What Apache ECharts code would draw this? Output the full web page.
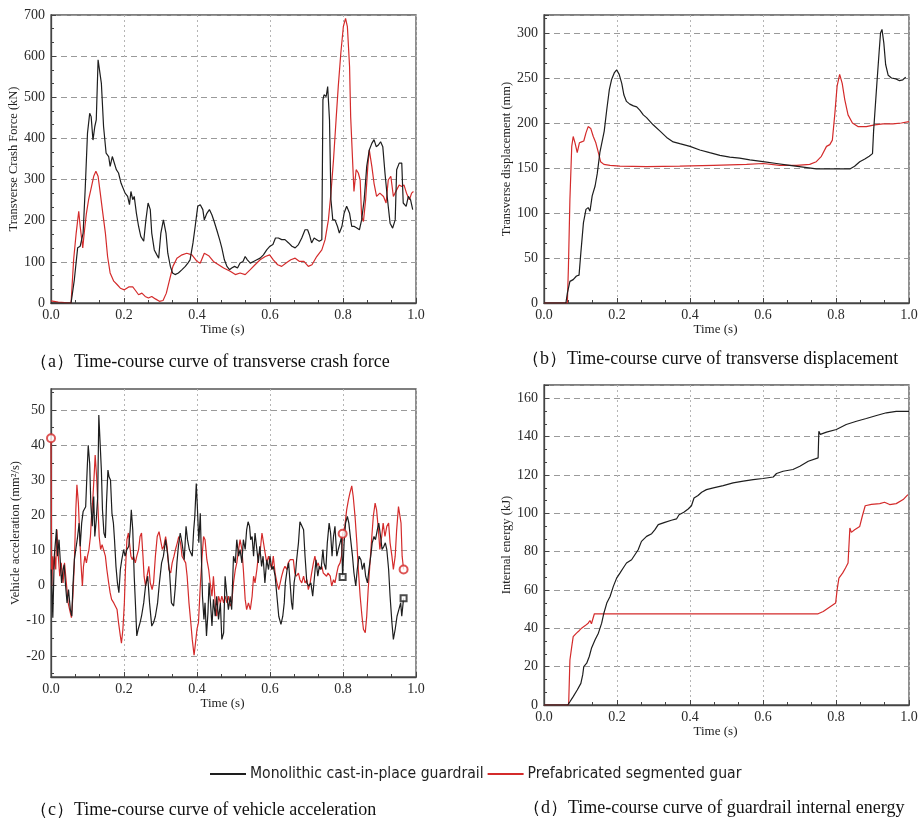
<!DOCTYPE html>
<html><head><meta charset="utf-8">
<script src="https://cdn.jsdelivr.net/npm/echarts@6/dist/echarts.min.js"></script>
<style>html,body{margin:0;padding:0;background:#fff}#c{width:921px;height:822px}</style>
</head><body><div id="c"></div>
<script>
// ---------------- DATA ----------------
const seriesNames = ['Monolithic cast-in-place guardrail', 'Prefabricated segmented guardrail'];
const timeTicks = [0, 0.2, 0.4, 0.6, 0.8, 1.0];
const accTicks = [-20, -10, 0, 10, 20, 30, 40, 50];
const accMinorTicks = [-25, -15, -5, 5, 15, 25, 35, 45, 55];
const captions = [
  '（a）Time-course curve of transverse crash force',
  '（b）Time-course curve of transverse displacement',
  '（c）Time-course curve of vehicle acceleration',
  '（d）Time-course curve of guardrail internal energy'
];

// (a) transverse crash force, kN
const forceMonolithic = [[0,0],[0.055,0],[0.064,57],[0.073,134],[0.080,138],[0.088,170],[0.094,283],[0.100,413],[0.106,461],[0.110,453],[0.115,396],[0.120,429],[0.124,445],[0.129,591],[0.132,595],[0.138,534],[0.144,429],[0.151,364],[0.158,356],[0.162,332],[0.168,356],[0.173,360],[0.179,324],[0.185,316],[0.192,291],[0.197,287],[0.203,267],[0.210,259],[0.215,239],[0.219,271],[0.224,251],[0.228,259],[0.234,218],[0.240,186],[0.246,162],[0.254,150],[0.260,202],[0.266,243],[0.272,227],[0.276,170],[0.283,129],[0.290,117],[0.295,109],[0.301,170],[0.308,202],[0.315,170],[0.320,121],[0.327,89],[0.333,73],[0.340,69],[0.349,73],[0.359,81],[0.368,89],[0.375,97],[0.381,105],[0.389,146],[0.395,186],[0.402,235],[0.409,239],[0.416,227],[0.420,202],[0.427,218],[0.434,227],[0.441,214],[0.447,198],[0.454,178],[0.462,154],[0.468,134],[0.475,105],[0.482,89],[0.489,81],[0.495,85],[0.503,89],[0.511,85],[0.518,97],[0.526,101],[0.532,113],[0.538,105],[0.546,97],[0.555,101],[0.564,105],[0.573,109],[0.582,117],[0.591,129],[0.600,138],[0.608,142],[0.615,158],[0.623,158],[0.632,154],[0.641,154],[0.651,146],[0.660,138],[0.669,134],[0.678,142],[0.687,158],[0.696,178],[0.703,178],[0.708,166],[0.714,146],[0.721,158],[0.728,154],[0.735,150],[0.742,154],[0.745,494],[0.748,506],[0.754,502],[0.758,526],[0.763,445],[0.767,251],[0.772,202],[0.778,202],[0.785,186],[0.790,170],[0.797,186],[0.803,218],[0.810,235],[0.818,218],[0.824,186],[0.831,186],[0.838,182],[0.845,178],[0.851,202],[0.858,251],[0.865,332],[0.872,372],[0.879,388],[0.885,397],[0.891,380],[0.897,384],[0.903,392],[0.909,380],[0.915,316],[0.922,251],[0.929,194],[0.936,182],[0.943,202],[0.947,324],[0.954,340],[0.961,340],[0.965,243],[0.973,235],[0.979,259],[0.985,251],[0.991,227]];
const forcePrefab = [[0,5],[0.02,2],[0.055,0],[0.062,105],[0.069,170],[0.076,223],[0.080,186],[0.087,134],[0.091,170],[0.097,218],[0.103,251],[0.109,275],[0.117,308],[0.123,320],[0.129,308],[0.135,267],[0.142,218],[0.149,170],[0.155,113],[0.162,73],[0.172,53],[0.181,45],[0.190,36],[0.201,32],[0.213,39],[0.224,39],[0.231,31],[0.240,20],[0.249,24],[0.258,16],[0.267,12],[0.276,16],[0.286,10],[0.297,4],[0.307,6],[0.316,24],[0.325,57],[0.334,89],[0.345,109],[0.359,117],[0.372,121],[0.386,117],[0.400,101],[0.409,97],[0.420,121],[0.432,115],[0.445,101],[0.459,93],[0.473,85],[0.491,77],[0.505,69],[0.518,73],[0.532,69],[0.546,81],[0.559,93],[0.573,105],[0.587,113],[0.599,117],[0.609,105],[0.621,93],[0.632,89],[0.644,97],[0.657,105],[0.669,109],[0.681,101],[0.693,101],[0.705,89],[0.715,93],[0.728,113],[0.742,129],[0.751,154],[0.760,202],[0.767,267],[0.774,348],[0.781,445],[0.787,526],[0.794,607],[0.801,672],[0.807,692],[0.812,672],[0.818,574],[0.821,453],[0.827,332],[0.830,271],[0.836,324],[0.842,316],[0.847,299],[0.851,210],[0.856,198],[0.862,251],[0.868,332],[0.872,372],[0.879,332],[0.885,291],[0.892,259],[0.901,267],[0.911,259],[0.918,243],[0.924,299],[0.931,308],[0.938,259],[0.947,275],[0.954,287],[0.961,283],[0.967,287],[0.974,267],[0.982,251],[0.988,267],[0.993,271]];

// (b) transverse displacement, mm
const dispMonolithic = [[0,0],[0.060,0],[0.064,11],[0.071,24],[0.080,26],[0.089,30],[0.096,31],[0.101,56],[0.108,89],[0.115,104],[0.121,106],[0.126,102],[0.132,119],[0.140,130],[0.146,144],[0.153,167],[0.160,181],[0.165,191],[0.172,215],[0.179,237],[0.185,248],[0.193,256],[0.199,259],[0.206,254],[0.213,244],[0.219,231],[0.226,224],[0.235,221],[0.245,219],[0.254,218],[0.263,214],[0.272,209],[0.281,206],[0.299,198],[0.318,191],[0.336,184],[0.354,179],[0.372,177],[0.400,174],[0.427,170],[0.454,167],[0.482,164],[0.509,162],[0.536,161],[0.564,159],[0.600,157],[0.637,155],[0.673,153],[0.710,151],[0.746,149],[0.783,149],[0.810,149],[0.838,149],[0.851,152],[0.865,157],[0.879,160],[0.891,163],[0.900,166],[0.903,191],[0.908,193],[0.912,244],[0.918,278],[0.922,300],[0.926,304],[0.931,289],[0.936,265],[0.943,253],[0.952,250],[0.964,249],[0.974,247],[0.983,248],[0.991,251]];
const dispPrefab = [[0,0],[0.064,0],[0.067,41],[0.071,115],[0.076,174],[0.080,185],[0.085,178],[0.091,167],[0.097,178],[0.103,179],[0.109,180],[0.115,189],[0.121,196],[0.128,194],[0.135,185],[0.142,178],[0.149,167],[0.155,157],[0.164,154],[0.181,153],[0.208,152],[0.281,151.5],[0.372,152],[0.464,153],[0.555,154],[0.600,155],[0.646,153],[0.692,153],[0.728,154],[0.746,157],[0.760,163],[0.774,174],[0.783,176],[0.790,181],[0.797,211],[0.803,241],[0.810,254],[0.817,244],[0.824,226],[0.833,209],[0.845,200],[0.860,196],[0.883,196],[0.906,198],[0.929,199],[0.956,199],[0.979,200],[1.0,201.5]];

// (c) vehicle acceleration
const accMonolithic = [[0.001,4.6],[0.005,-9.1],[0.009,8.4],[0.015,16.1],[0.018,8.4],[0.022,13.1],[0.026,13.6],[0.029,0.8],[0.033,4.6],[0.036,6],[0.040,-0.1],[0.044,-4.9],[0.048,-1.1],[0.053,-6.8],[0.057,-8.7],[0.060,-0.1],[0.064,7.4],[0.068,6.9],[0.073,14],[0.077,17.8],[0.080,11.2],[0.084,17.8],[0.088,21.1],[0.091,20.6],[0.095,22.5],[0.099,32.9],[0.102,40],[0.106,34.8],[0.109,23.5],[0.113,16.9],[0.117,25.4],[0.120,14],[0.124,18.7],[0.128,25.4],[0.131,48.6],[0.134,49.1],[0.138,32.9],[0.141,21.6],[0.145,15],[0.149,13.6],[0.152,23.5],[0.156,32.9],[0.159,31],[0.163,30.1],[0.167,20.6],[0.171,17.8],[0.174,13.1],[0.178,5.5],[0.182,0.8],[0.186,-2],[0.190,4.6],[0.194,7.4],[0.199,10.3],[0.203,8.4],[0.208,10.3],[0.213,11.2],[0.217,15.9],[0.220,21.6],[0.224,15.9],[0.228,2.7],[0.232,-6.8],[0.235,-14.3],[0.239,-12.4],[0.244,-10.5],[0.248,-8.7],[0.254,-4.9],[0.259,-0.1],[0.265,2.7],[0.270,-4.9],[0.276,-11.5],[0.281,-10.5],[0.286,-8.7],[0.292,-4.9],[0.297,0.8],[0.303,6.5],[0.308,8.4],[0.314,13.1],[0.319,9.3],[0.325,3.6],[0.330,-4.9],[0.336,-5.8],[0.340,-1.1],[0.345,6.5],[0.349,11.2],[0.354,15],[0.359,12.2],[0.365,7.4],[0.370,16.9],[0.374,13.1],[0.379,10.3],[0.383,9.8],[0.387,8.4],[0.391,15.9],[0.394,19.7],[0.398,29.1],[0.401,22.5],[0.405,12.2],[0.409,20.6],[0.412,8.4],[0.415,-3],[0.419,-9.6],[0.422,-4.9],[0.426,-14.3],[0.430,-7.7],[0.433,0.8],[0.437,-4.9],[0.441,-11.5],[0.445,-3.9],[0.450,-8.7],[0.454,-3],[0.459,-9.6],[0.464,-4.9],[0.468,-15.3],[0.473,-13.4],[0.477,2.7],[0.482,-3],[0.486,-6.8],[0.491,-3],[0.495,-6.8],[0.500,8.4],[0.505,6.5],[0.509,13.1],[0.514,8.4],[0.518,10.3],[0.523,6.5],[0.527,13.1],[0.532,10.3],[0.536,15.9],[0.540,18.2],[0.544,16.9],[0.547,13.1],[0.551,14],[0.555,8.4],[0.559,15],[0.564,10.3],[0.568,6.5],[0.572,11.2],[0.577,5.5],[0.581,8.4],[0.586,0.8],[0.591,7.4],[0.596,4.6],[0.600,8.4],[0.605,4.6],[0.609,5.5],[0.614,2.7],[0.619,-3],[0.624,-8.7],[0.630,-11],[0.635,-8.7],[0.639,-4.9],[0.642,0.8],[0.647,4.6],[0.651,6.5],[0.655,0.8],[0.659,-4.9],[0.662,-6.8],[0.666,0.8],[0.670,3.6],[0.673,7.4],[0.678,12.2],[0.682,18.2],[0.687,17.8],[0.692,15.9],[0.696,8.4],[0.701,0.8],[0.706,-0.1],[0.712,0.8],[0.717,-3],[0.722,2.7],[0.726,7.4],[0.731,2.7],[0.735,5.5],[0.740,4.6],[0.745,10.3],[0.748,6.5],[0.753,4.6],[0.757,12.2],[0.762,17.8],[0.766,15],[0.770,8.4],[0.774,14],[0.778,16.9],[0.783,8.4],[0.787,10.3],[0.792,12.2],[0.796,14],[0.799,2.5],[0.803,12.2],[0.807,17.8],[0.812,19.7],[0.816,17.8],[0.821,13.1],[0.826,8.4],[0.830,3.6],[0.835,-0.1],[0.839,4.6],[0.844,8.4],[0.849,7.4],[0.853,4.6],[0.858,6.5],[0.862,2.7],[0.867,0.8],[0.871,4.6],[0.876,8.4],[0.880,12.2],[0.885,14],[0.889,13.1],[0.894,15.9],[0.898,17.8],[0.903,14],[0.907,10.3],[0.912,11.2],[0.916,12.2],[0.920,10.3],[0.925,4.6],[0.929,-3],[0.934,-10.5],[0.938,-15.3],[0.943,-12.4],[0.948,-8.7],[0.953,-6.8],[0.958,-4.9],[0.961,-8.7],[0.966,-3.6]];
const accPrefab = [[0,42],[0.002,-0.1],[0.005,8.4],[0.007,4.6],[0.010,8.4],[0.013,4.6],[0.016,15.9],[0.020,8.4],[0.024,2.7],[0.028,6.5],[0.033,0.8],[0.037,6.5],[0.042,0.8],[0.047,-4.9],[0.051,-6.8],[0.056,-9.1],[0.060,-3],[0.064,6.5],[0.068,21.6],[0.071,28.7],[0.075,23.5],[0.078,15.9],[0.082,6.5],[0.086,-0.1],[0.089,5.5],[0.093,8.4],[0.097,6.5],[0.100,8.4],[0.104,10.3],[0.108,14],[0.111,19.7],[0.115,25.4],[0.119,32.9],[0.121,37.2],[0.125,31],[0.129,21.6],[0.132,14],[0.136,10.3],[0.140,11.7],[0.144,12.2],[0.149,8.4],[0.153,4.6],[0.158,0.8],[0.162,-2],[0.166,-3.9],[0.172,-4.9],[0.176,-4.9],[0.181,-6.8],[0.185,-10.5],[0.190,-14.3],[0.193,-16.4],[0.197,-12.4],[0.201,-4.9],[0.204,4.6],[0.208,13.1],[0.212,15],[0.215,12.2],[0.219,8.4],[0.223,7.4],[0.226,8.4],[0.231,6.5],[0.235,8.4],[0.240,10.3],[0.244,14],[0.248,15],[0.252,8.4],[0.255,2.7],[0.259,-0.1],[0.263,2.7],[0.268,5.5],[0.272,0.8],[0.277,-1.1],[0.281,0.8],[0.286,8.4],[0.291,14],[0.296,15.4],[0.300,13.1],[0.305,10.3],[0.309,11.2],[0.314,14],[0.318,11.2],[0.323,4.6],[0.328,3.6],[0.332,6.5],[0.337,8.4],[0.341,10.3],[0.346,12.2],[0.350,14],[0.355,12.2],[0.359,8.4],[0.364,8.4],[0.369,6.5],[0.373,2.7],[0.378,-4.9],[0.383,-10.5],[0.387,-15.3],[0.392,-19.8],[0.396,-16.2],[0.400,-12.4],[0.404,-10.5],[0.409,-0.1],[0.414,8.4],[0.418,14],[0.422,13.1],[0.427,7.4],[0.432,4.6],[0.436,0.8],[0.441,-3],[0.445,2.7],[0.450,-4.9],[0.454,-8.7],[0.459,-3],[0.464,-4.9],[0.468,-3],[0.473,-4.9],[0.477,-3],[0.482,-4.9],[0.486,-3],[0.491,-5.8],[0.495,-4.9],[0.500,0.8],[0.505,4.6],[0.509,6.5],[0.514,10.3],[0.518,13.1],[0.523,10.3],[0.527,4.6],[0.532,-3.9],[0.536,-6.8],[0.541,-4.9],[0.546,-6.8],[0.551,-3],[0.555,2.7],[0.559,0.8],[0.564,4.6],[0.568,8.4],[0.573,9.8],[0.578,15],[0.582,15],[0.588,8.4],[0.591,6.5],[0.596,8.4],[0.600,6.5],[0.605,4.6],[0.609,8.4],[0.614,3.6],[0.619,0.8],[0.624,-1.1],[0.628,0.8],[0.632,2.7],[0.637,4.6],[0.641,5.5],[0.646,4.6],[0.650,6.5],[0.655,7.4],[0.659,6.9],[0.664,7.4],[0.668,3.6],[0.672,2.7],[0.678,3.6],[0.682,1.7],[0.687,0.8],[0.692,2.7],[0.696,0.8],[0.701,1.7],[0.705,-1.1],[0.710,0.8],[0.714,3.6],[0.719,6.5],[0.723,8.4],[0.728,5.5],[0.732,6.5],[0.737,4.6],[0.742,5.5],[0.746,3.6],[0.750,3.6],[0.755,2.7],[0.759,3.6],[0.765,2.7],[0.769,-0.1],[0.774,1.7],[0.778,0.8],[0.783,3.6],[0.787,5.5],[0.792,6.5],[0.796,8.4],[0.799,14.8],[0.805,16.9],[0.810,21.6],[0.815,24.5],[0.819,26.4],[0.824,28.4],[0.828,25.4],[0.833,19.7],[0.838,12.2],[0.842,4.6],[0.847,-3],[0.852,-8.7],[0.856,-12.4],[0.861,-13.4],[0.865,-8.7],[0.869,-1.1],[0.874,6.5],[0.879,14],[0.883,19.7],[0.888,23.5],[0.892,21.6],[0.897,15.9],[0.901,10.3],[0.906,14],[0.910,17.8],[0.915,14],[0.920,16.9],[0.925,17.8],[0.929,12.2],[0.934,8.4],[0.938,4.6],[0.943,8.4],[0.947,15.9],[0.952,22.5],[0.956,23],[0.959,17.8],[0.962,8.4],[0.966,4.6]];
const accMonolithicMarks = [[0.799,2.5],[0.966,-3.6]];
const accPrefabMarks = [[0,42],[0.799,14.8],[0.966,4.6]];

// (d) internal energy, kJ
const energyMonolithic = [[0,0],[0.065,0],[0.071,1.7],[0.080,4.4],[0.091,7.8],[0.101,11.3],[0.106,15.7],[0.109,20],[0.117,21.8],[0.124,25.3],[0.130,29.6],[0.140,34],[0.149,37.5],[0.158,42.7],[0.164,47.9],[0.172,53.2],[0.181,56.6],[0.190,61.9],[0.199,66.2],[0.208,68.8],[0.217,71.5],[0.226,74.1],[0.240,75.8],[0.249,78.4],[0.258,81],[0.267,85.4],[0.281,88],[0.295,89.4],[0.304,91.5],[0.313,94.1],[0.331,95.3],[0.349,96.4],[0.363,97.1],[0.370,99.3],[0.383,100.6],[0.395,102.3],[0.404,104],[0.411,108],[0.422,109.3],[0.432,111],[0.445,112.4],[0.464,113.3],[0.491,114.5],[0.518,115.9],[0.546,116.8],[0.573,117.6],[0.600,118.2],[0.628,119],[0.637,120.8],[0.655,122],[0.682,122.9],[0.701,124.6],[0.724,127.2],[0.751,129],[0.753,142.9],[0.757,141.2],[0.774,142.4],[0.801,143.8],[0.828,146.4],[0.856,148.1],[0.883,149.5],[0.911,151.1],[0.938,152.5],[0.965,153.2],[1.0,153.2]];
const energyPrefab = [[0,0],[0.0675,0],[0.071,23.5],[0.076,30.5],[0.080,35.7],[0.085,36.6],[0.089,37.5],[0.097,38.9],[0.103,40.1],[0.112,41.3],[0.121,42.7],[0.126,44.1],[0.130,42.4],[0.135,41.7],[0.138,47.6],[0.190,47.6],[0.400,47.6],[0.600,47.6],[0.751,47.6],[0.765,48.8],[0.778,50.5],[0.792,52.3],[0.799,53.2],[0.803,60.1],[0.808,66.2],[0.818,68.8],[0.826,71.5],[0.833,74.1],[0.838,92.4],[0.842,90.1],[0.851,91.5],[0.865,93.2],[0.872,98.5],[0.876,97.6],[0.880,104],[0.897,104.7],[0.920,105.1],[0.933,105.8],[0.947,104.6],[0.965,105.1],[0.984,107.2],[0.997,109.8]];

// ---------------- CHART ----------------
const SERIF = '"Liberation Serif", "Times New Roman", serif';
const BLACK = '#1e1e1e', RED = '#d42b2b', AX = '#444';

const grids = [
  {left: 51, top: 15, width: 365, height: 288},
  {left: 544, top: 15, width: 365, height: 288},
  {left: 51, top: 389, width: 365, height: 288},
  {left: 544, top: 385, width: 365, height: 320}
].map(g => Object.assign(g, {show: true, borderColor: '#555', borderWidth: 1.3, backgroundColor: 'transparent'}));

function xAxis(gi, gap) {
  return {
    type: 'value', gridIndex: gi, min: timeTicks[0], max: timeTicks[timeTicks.length - 1], interval: 0.2,
    name: 'Time (s)', nameLocation: 'middle', nameGap: gap,
    nameTextStyle: {fontFamily: SERIF, fontSize: 13, color: '#222', padding: [0, 22, 0, 0]},
    axisLine: {onZero: false, lineStyle: {color: AX, width: 1.3}},
    axisTick: {inside: true, length: 5, lineStyle: {color: AX}},
    minorTick: {show: true, splitNumber: 3, length: 3, lineStyle: {color: AX}},
    axisLabel: {formatter: v => v.toFixed(1), fontFamily: SERIF, fontSize: 14, color: '#2a2a2a', margin: 5},
    splitLine: {show: true, lineStyle: {color: '#b5b5b5', type: [2, 3], width: 1}}
  };
}
function yAxis(gi, min, max, interval, minorSplit, name, gap, showMax) {
  return {
    type: 'value', gridIndex: gi, min: min, max: max, interval: interval,
    name: name, nameLocation: 'middle', nameGap: gap, nameRotate: 90,
    nameTextStyle: {fontFamily: SERIF, fontSize: 12.5, color: '#222'},
    axisLine: {show: true, onZero: false, lineStyle: {color: AX, width: 1.3}},
    axisTick: {inside: true, length: 5, lineStyle: {color: AX}},
    minorTick: {show: true, splitNumber: minorSplit, length: 3, lineStyle: {color: AX}},
    axisLabel: {fontFamily: SERIF, fontSize: 14, color: '#2a2a2a', margin: 6, showMaxLabel: showMax},
    splitLine: {show: true, lineStyle: {color: '#9a9a9a', type: [6, 4], width: 1}}
  };
}

const yAcc = {
  type: 'value', gridIndex: 2, min: -26, max: 56,
  name: 'Vehicle acceleration (mm²/s)', nameLocation: 'middle', nameGap: 23, nameRotate: 90,
  nameTextStyle: {fontFamily: SERIF, fontSize: 12.5, color: '#222'},
  axisLine: {show: true, onZero: false, lineStyle: {color: AX, width: 1.3}},
  axisTick: {inside: true, length: 5, lineStyle: {color: AX}, customValues: accTicks},
  axisLabel: {fontFamily: SERIF, fontSize: 14, color: '#2a2a2a', margin: 6, customValues: accTicks},
  splitLine: {show: true, lineStyle: {color: '#9a9a9a', type: [6, 4], width: 1}}
};
const yAccMinor = {
  type: 'value', gridIndex: 2, min: -26, max: 56, position: 'left',
  axisLine: {show: false, onZero: false},
  axisTick: {inside: true, length: 3, lineStyle: {color: AX}, customValues: accMinorTicks},
  axisLabel: {show: false},
  splitLine: {show: false}
};

function line(name, data, color, gi) {
  return {type: 'line', name: name, data: data, xAxisIndex: gi, yAxisIndex: gi, showSymbol: false,
    symbol: 'none', lineStyle: {color: color, width: 1.2}, itemStyle: {color: color}, z: name === seriesNames[0] ? 3 : 2};
}

const option = {
  animation: false,
  backgroundColor: '#fff',
  grid: grids,
  xAxis: [xAxis(0, 13), xAxis(1, 13), xAxis(2, 14), xAxis(3, 17)],
  yAxis: [
    yAxis(0, 0, 700, 100, 3, 'Transverse Crash Force (kN)', 23, true),
    yAxis(1, 0, 320, 50, 3, 'Transverse displacement (mm)', 23, false),
    yAcc,
    yAxis(3, 0, 167, 20, 3, 'Internal energy (kJ)', 23, false),
    yAccMinor
  ],
  legend: {
    left: 205, top: 761, itemWidth: 36, itemHeight: 2, itemGap: 4, icon: 'rect',
    data: [{name: seriesNames[0]}, {name: seriesNames[1], textStyle: {width: 216, overflow: 'truncate', ellipsis: ''}}],
    textStyle: {fontFamily: '"Liberation Sans Narrow", "DejaVu Sans Condensed", sans-serif', fontSize: 15.6, color: '#222', padding: [0, 0, 0, -1]}
  },
  graphic: [
    {type: 'text', left: 30, top: 353, style: {text: captions[0], font: '18px "Liberation Serif", serif', fill: '#111'}},
    {type: 'text', left: 522, top: 350, style: {text: captions[1], font: '18px "Liberation Serif", serif', fill: '#111'}},
    {type: 'text', left: 30, top: 801, style: {text: captions[2], font: '18px "Liberation Serif", serif', fill: '#111'}},
    {type: 'text', left: 523, top: 799, style: {text: captions[3], font: '18px "Liberation Serif", serif', fill: '#111'}}
  ],
  series: [
    line(seriesNames[0], forceMonolithic, BLACK, 0),
    line(seriesNames[1], forcePrefab, RED, 0),
    line(seriesNames[0], dispMonolithic, BLACK, 1),
    line(seriesNames[1], dispPrefab, RED, 1),
    line(seriesNames[0], accMonolithic, BLACK, 2),
    line(seriesNames[1], accPrefab, RED, 2),
    line(seriesNames[0], energyMonolithic, BLACK, 3),
    line(seriesNames[1], energyPrefab, RED, 3),
    {type: 'scatter', name: 'monoMarks', data: accMonolithicMarks, xAxisIndex: 2, yAxisIndex: 2, symbol: 'emptyRect', symbolSize: 6,
      itemStyle: {color: BLACK, borderWidth: 1.2}, z: 5},
    {type: 'scatter', name: 'prefMarks', data: accPrefabMarks, xAxisIndex: 2, yAxisIndex: 2, symbol: 'emptyCircle', symbolSize: 8,
      itemStyle: {color: RED, borderWidth: 1}, z: 5}
  ]
};
const chart = echarts.init(document.getElementById('c'));
chart.setOption(option);
</script></body></html>
